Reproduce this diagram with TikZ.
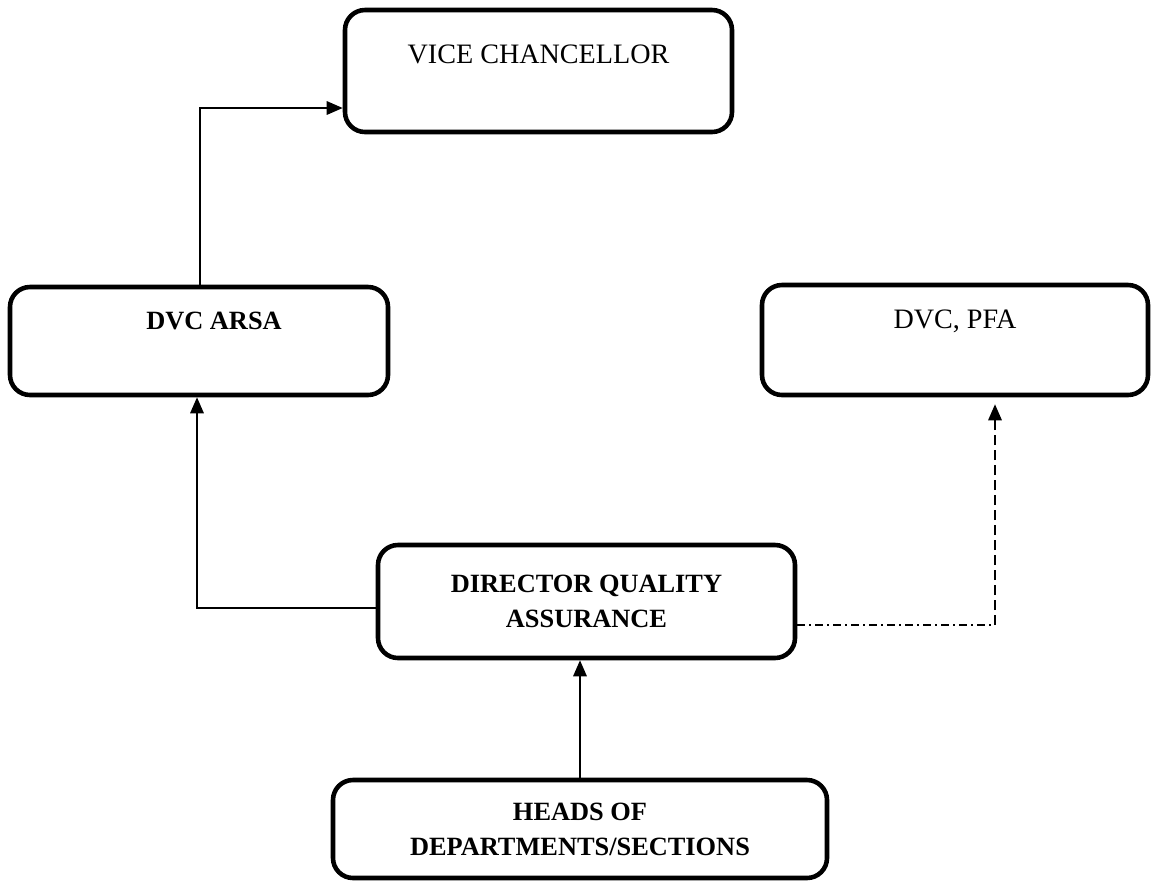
\documentclass[tikz,border=0pt]{standalone}
\usepackage{fontspec}
\setmainfont{Liberation Serif}
\usetikzlibrary{arrows.meta}

\begin{document}
\begin{tikzpicture}[x=0.2mm,y=-0.2mm,>={Triangle[length=0.32cm,width=0.27cm]},
  orgbox/.style={draw,line width=2.6pt,rounded corners=0.4cm,inner sep=0pt,align=center},
  boldtext/.style={font=\fontsize{15}{19.8}\selectfont\bfseries},
  plaintext/.style={font=\fontsize{16}{19}\selectfont},
  link/.style={line width=0.9pt}]
\useasboundingbox (0,0) rectangle (1153,881);
% boxes
\node[orgbox,plaintext,minimum width=7.74cm,text height=1.06cm,text depth=1.38cm] (vc) at (538.5,71) {VICE CHANCELLOR};
\node[orgbox,boldtext,minimum width=7.56cm,text height=0.84cm,text depth=1.32cm] (arsa) at (199,341) {\hspace*{0.6cm}DVC ARSA};
\node[orgbox,plaintext,minimum width=7.72cm,text height=0.86cm,text depth=1.34cm] (pfa) at (955,340) {DVC, PFA};
\node[orgbox,boldtext,minimum width=8.34cm,minimum height=2.26cm] (dqa) at (586.5,601.5) {DIRECTOR QUALITY\\ASSURANCE};
\node[orgbox,boldtext,minimum width=9.88cm,minimum height=1.96cm] (hod) at (580,829) {HEADS OF\\DEPARTMENTS/SECTIONS};
% connectors
\coordinate (vcL) at (200,108);
\draw[link,->] (arsa.north -| vcL) -- (vcL) -- (vc.west |- vcL);
\coordinate (qaL) at (197,608);
\draw[link,->] (dqa.west |- qaL) -- (qaL) -- (arsa.south -| qaL);
\coordinate (qaR) at (995,625);
\draw[link,dash pattern=on 0.16cm off 0.08cm on 0.04cm off 0.08cm] (dqa.east |- qaR) -- (qaR);
\draw[link,dash pattern=on 0.2cm off 0.1cm,->,shorten >=0.14cm] (qaR) -- (pfa.south -| qaR);
\draw[link,->] (hod.north) -- (hod.north |- dqa.south);
\end{tikzpicture}
\end{document}
